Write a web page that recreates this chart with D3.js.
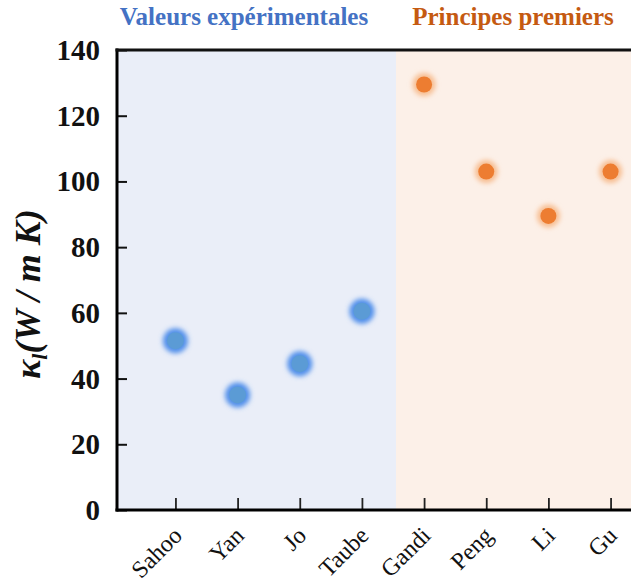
<!DOCTYPE html>
<html>
<head>
<meta charset="utf-8">
<script src="https://cdn.jsdelivr.net/npm/d3@7"></script>
<style>
  html, body { margin: 0; padding: 0; background: #fff; }
  svg { display: block; }
</style>
</head>
<body>
<div id="chart"></div>
<script>
// Lattice thermal conductivity by source
const expCategories = ["Sahoo", "Yan", "Jo", "Taube"];
const expValues = [51.5, 35, 44.5, 60.5];
const dftCategories = ["Gandi", "Peng", "Li", "Gu"];
const dftValues = [129.5, 103, 89.5, 103];
const yTicks = [0, 20, 40, 60, 80, 100, 120, 140];
const groupTitles = ["Valeurs expérimentales", "Principes premiers"];

const W = 631, H = 583;
const margin = { left: 117, top: 50, right: -38, bottom: 73 };
const innerW = W - margin.left - margin.right;
const innerH = H - margin.top - margin.bottom;

const svg = d3.select("#chart").append("svg")
  .attr("width", W).attr("height", H);

const defs = svg.append("defs");
defs.append("filter").attr("id", "glow")
  .attr("x", "-50%").attr("y", "-50%").attr("width", "200%").attr("height", "200%")
  .append("feGaussianBlur").attr("stdDeviation", 2.6);

const g = svg.append("g").attr("transform", `translate(${margin.left},${margin.top})`);

const categories = expCategories.concat(dftCategories);
const x = d3.scalePoint().domain(categories).range([0, innerW]).padding(0.94);
const y = d3.scaleLinear().domain([0, 140]).range([innerH, 0]);

// group backgrounds, split between the two groups
const split = (x(expCategories[expCategories.length - 1]) + x(dftCategories[0])) / 2 + 3;
g.append("rect").attr("x", 0).attr("y", 0).attr("width", split).attr("height", innerH)
  .attr("fill", "#EAEEF8");
g.append("rect").attr("x", split).attr("y", 0).attr("width", innerW - split).attr("height", innerH)
  .attr("fill", "#FCF0E8");

// axes
const serif = "'Liberation Serif', 'Times New Roman', serif";
const yAxis = g.append("g").call(d3.axisRight(y).tickValues(yTicks).tickSize(10).tickFormat(""));
yAxis.select(".domain").remove();
yAxis.selectAll(".tick line").attr("stroke", "#111").attr("stroke-width", 2);

g.selectAll(".ylab").data(yTicks).join("text")
  .attr("class", "ylab")
  .attr("x", -17).attr("y", d => y(d) + 10)
  .attr("text-anchor", "end")
  .attr("font-family", serif).attr("font-weight", "bold").attr("font-size", 29)
  .attr("fill", "#111").text(d => d);

const xAxis = g.append("g").attr("transform", `translate(0,${innerH})`)
  .call(d3.axisTop(x).tickSize(12).tickFormat(""));
xAxis.select(".domain").remove();
xAxis.selectAll(".tick line").attr("stroke", "#222").attr("stroke-width", 1.8);

g.selectAll(".xlab").data(categories).join("text")
  .attr("class", "xlab")
  .attr("transform", d => `translate(${x(d) + 8},${innerH + 27}) rotate(-45)`)
  .attr("text-anchor", "end")
  .attr("font-family", serif).attr("font-size", 24)
  .attr("fill", "#111").text(d => d);

// frame lines: left, bottom, top
g.append("line").attr("x1", 0).attr("x2", 0).attr("y1", -1.5).attr("y2", innerH + 1.5)
  .attr("stroke", "#000").attr("stroke-width", 3);
g.append("line").attr("x1", -1.5).attr("x2", innerW).attr("y1", innerH).attr("y2", innerH)
  .attr("stroke", "#000").attr("stroke-width", 3);
g.append("line").attr("x1", -1.5).attr("x2", innerW).attr("y1", 0).attr("y2", 0)
  .attr("stroke", "#111").attr("stroke-width", 3);

// points with soft halo
function drawSeries(cats, vals, halo, core, rHalo, rCore) {
  const data = cats.map((c, i) => ({ c, v: vals[i] }));
  const pg = g.append("g");
  pg.selectAll(".halo").data(data).join("circle")
    .attr("cx", d => x(d.c)).attr("cy", d => y(d.v)).attr("r", rHalo)
    .attr("fill", halo).attr("filter", "url(#glow)");
  pg.selectAll(".core").data(data).join("circle")
    .attr("cx", d => x(d.c)).attr("cy", d => y(d.v)).attr("r", rCore)
    .attr("fill", core);
}
drawSeries(expCategories, expValues, "#4F8EEA", "#5B9BD5", 12.5, 8.5);
drawSeries(dftCategories, dftValues, "#F7BE92", "#ED7D31", 11.5, 8);

// group titles
svg.append("text").attr("x", 244).attr("y", 25)
  .attr("text-anchor", "middle")
  .attr("font-family", serif).attr("font-weight", "bold").attr("font-size", 25)
  .attr("fill", "#4472C4").text(groupTitles[0]);
svg.append("text").attr("x", 513).attr("y", 25)
  .attr("text-anchor", "middle")
  .attr("font-family", serif).attr("font-weight", "bold").attr("font-size", 25)
  .attr("fill", "#C55A11").text(groupTitles[1]);

// y-axis title
const yt = svg.append("text")
  .attr("transform", `translate(40,${margin.top + innerH / 2 + 14}) rotate(-90)`)
  .attr("text-anchor", "middle")
  .attr("font-family", serif).attr("font-weight", "bold").attr("font-style", "italic")
  .attr("font-size", 36).attr("fill", "#111");
yt.append("tspan").text("κ");
yt.append("tspan").attr("font-size", 22).attr("dy", 7).text("l");
yt.append("tspan").attr("dy", -7).text("(W / m K)");
</script>
</body>
</html>
